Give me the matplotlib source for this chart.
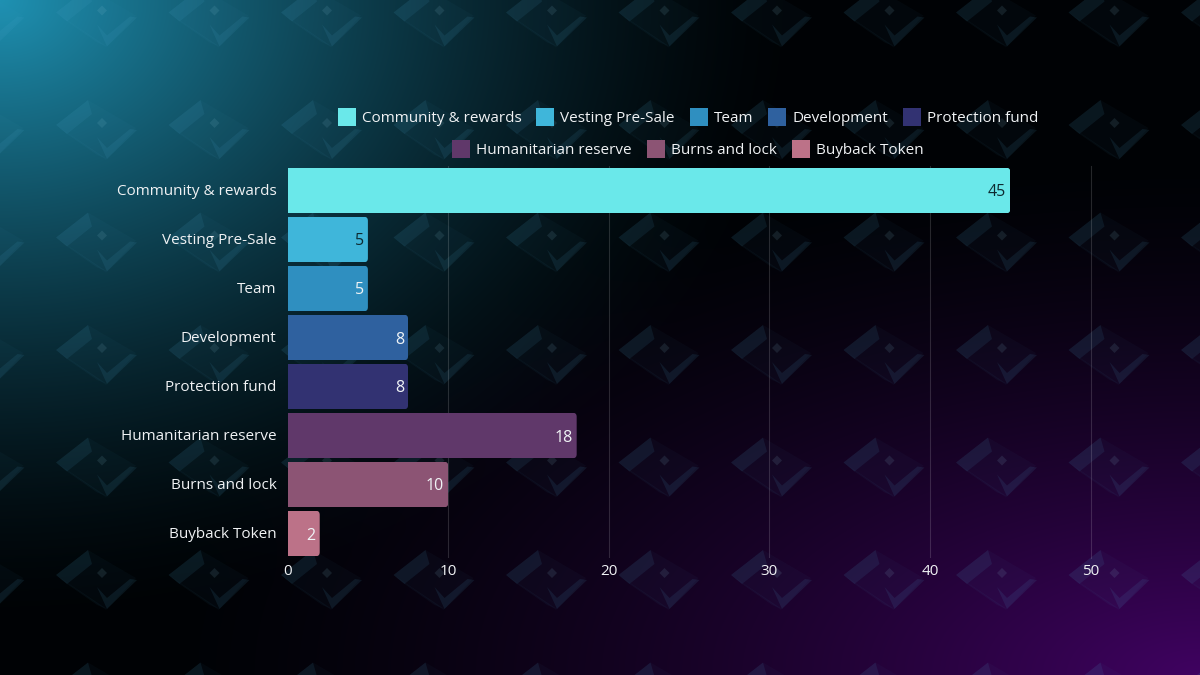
import numpy as np
import matplotlib.pyplot as plt
from matplotlib.patches import FancyBboxPatch, Rectangle, Polygon
from matplotlib.transforms import IdentityTransform, ScaledTranslation

plt.rcParams['font.family'] = ['Open Sans', 'DejaVu Sans']

# Datos
categorias = ['Community & rewards', 'Vesting Pre-Sale', 'Team', 'Development',
              'Protection fund', 'Humanitarian reserve', 'Burns and lock', 'Buyback Token']
valores = [45, 5, 5, 7.5, 7.5, 18, 10, 2]
colores = ['#6AE8EA', '#3FB6DA', '#2F8FC0', '#2F619F', '#323272', '#60386A', '#8C5474', '#BC7288']
color_etiqueta = ['#0E2A30', '#0E2A30', '#F0F4F6', '#F0F4F6', '#F0F4F6', '#F0F4F6', '#F0F4F6', '#F0F4F6']
ticks_x = [0, 10, 20, 30, 40, 50]

W, H = 1200, 675
fig = plt.figure(figsize=(W / 100, H / 100), dpi=100)

# -------------------------------- Fondo con degradado --------------------------------
fondo = fig.add_axes([0, 0, 1, 1], zorder=0)
fondo.set_xlim(0, W)
fondo.set_ylim(H, 0)
fondo.axis('off')

xx, yy = np.meshgrid(np.arange(W) + 0.5, np.arange(H) + 0.5)
d_teal = np.sqrt((xx / 800) ** 2 + (yy / 620) ** 2)
d_lila = np.sqrt(((W - xx) / 1050) ** 2 + ((H - yy) / 520) ** 2)
f_teal = np.clip(1 - d_teal, 0, 1)[..., None] ** 1.5
f_lila = np.clip(1 - d_lila, 0, 1)[..., None] ** 1.5
img = np.array([0.0, 0.01, 0.02]) + f_teal * np.array([0.12, 0.56, 0.68]) + f_lila * np.array([0.25, 0.0, 0.36])
fondo.imshow(np.clip(img, 0, 1), extent=[0, W, H, 0], aspect='auto', interpolation='bilinear', zorder=0)

# Marca de agua repetida (rombo con check)
for tx in np.arange(-112.5, W + 112, 112.5):
    for ty in np.arange(-100.5, H + 112, 112.5):
        banda = [(tx + 56, ty + 113), (tx + 88, ty + 88), (tx + 92, ty + 102), (tx + 67, ty + 122)]
        borde = [(tx + 56, ty + 113), (tx + 67, ty + 122), (tx + 97, ty + 143), (tx + 107, ty + 147)]
        cuerpo = [(tx + 56, ty + 113), (tx + 88, ty + 88), (tx + 136, ty + 116), (tx + 106, ty + 148)]
        check = [(tx + 97, ty + 125), (tx + 107, ty + 136), (tx + 130, ty + 117), (tx + 137, ty + 118),
                 (tx + 107, ty + 147)]
        punto = [(tx + 102, ty + 106), (tx + 107, ty + 111), (tx + 102, ty + 116), (tx + 97, ty + 111)]
        fondo.add_patch(Polygon(cuerpo, color='#4FA8D0', alpha=0.035, lw=0, zorder=1))
        fondo.add_patch(Polygon(banda, color='#4FA8D0', alpha=0.10, lw=0, zorder=1))
        fondo.add_patch(Polygon(borde, color='#4FA8D0', alpha=0.05, lw=0, zorder=1))
        fondo.add_patch(Polygon(check, color='#4FA8D0', alpha=0.11, lw=0, zorder=1))
        fondo.add_patch(Polygon(punto, color='#8FC8DC', alpha=0.12, lw=0, zorder=1))

# -------------------------------- Grafica de barras --------------------------------
ax = fig.add_axes([287.6 / W, 1 - 558 / H, (1090.6 - 287.6) / W, 392 / H], zorder=1)
ax.patch.set_alpha(0)
y_pos = np.arange(len(categorias))
barras = ax.barh(y_pos, valores, height=0.93, color=colores, zorder=3)
ax.set_xlim(0, 50)
ax.set_ylim(len(categorias) - 0.5, -0.5)
ax.set_yticks(y_pos, categorias)
ax.set_xticks(ticks_x)
ax.tick_params(axis='both', length=0, labelsize=11, labelcolor='#F0F2F4')
ax.tick_params(axis='y', pad=8)
ax.tick_params(axis='x', pad=4)
for s in ax.spines.values():
    s.set_visible(False)
ax.grid(axis='x', color='#FFFFFF', alpha=0.15, lw=0.8, zorder=1)
ax.set_axisbelow(True)
ax.get_xgridlines()[-1].set_clip_on(False)
ax.get_xgridlines()[0].set_visible(False)

# Subir un pixel las etiquetas del eje y
subir = ScaledTranslation(0, 1 / 100, fig.dpi_scale_trans)
for lab in ax.get_yticklabels():
    lab.set_transform(lab.get_transform() + subir)

# Esquinas redondeadas en el extremo de cada barra
for b in barras:
    (x0, y0), (x1, y1) = ax.transData.transform([(0, b.get_y()), (b.get_width(), b.get_y() + b.get_height())])
    caja = FancyBboxPatch((x0 - 8, min(y0, y1)), x1 - x0 + 8, abs(y1 - y0),
                          boxstyle='round,pad=0,rounding_size=4', transform=IdentityTransform())
    b.set_clip_path(caja)

# Etiquetas de valores
for y, v, c in zip(y_pos, valores, color_etiqueta):
    ax.annotate(f'{v:.0f}', (v, y), xytext=(-3, 0), textcoords='offset points', ha='right', va='center_baseline',
                fontsize=11.5, color=c, zorder=4)

# -------------------------------- Leyenda en dos filas --------------------------------
renderer = fig.canvas.get_renderer()


def fila_leyenda(indices, y_px):
    textos = [fondo.text(0, y_px, categorias[i], fontsize=11, color='#F0F2F4', va='center_baseline', ha='left', zorder=3)
              for i in indices]
    anchos = [t.get_window_extent(renderer).width for t in textos]
    total = sum(anchos) + 24 * len(indices) + 15 * (len(indices) - 1)
    x = 688 - total / 2
    for i, t, a in zip(indices, textos, anchos):
        fondo.add_patch(Rectangle((x, y_px - 9), 18, 18, color=colores[i], lw=0, zorder=3))
        t.set_x(x + 24)
        x += 24 + a + 15


fila_leyenda([0, 1, 2, 3, 4], 117)
fila_leyenda([5, 6, 7], 149)

fig.savefig('out.png', dpi=100)
